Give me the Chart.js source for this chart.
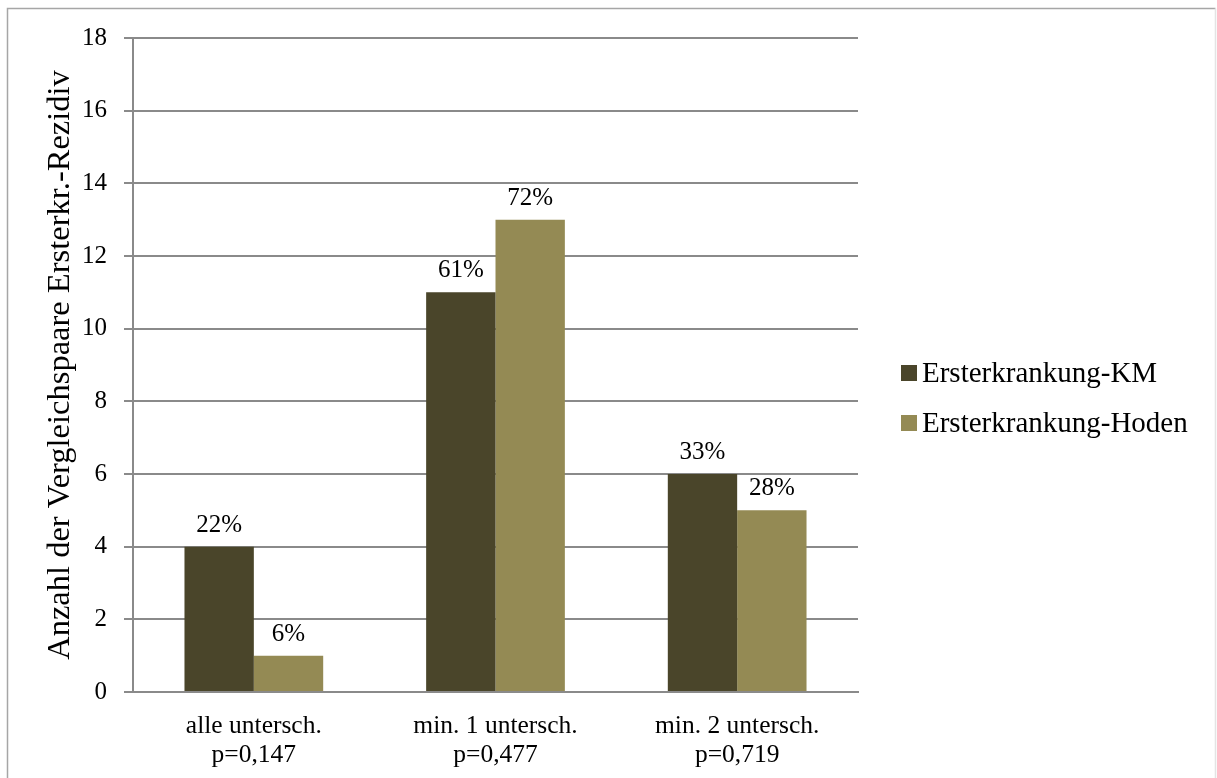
<!DOCTYPE html>
<html>
<head>
<meta charset="utf-8">
<script src="https://cdn.jsdelivr.net/npm/chart.js@4"></script>
<style>
  html, body { margin: 0; padding: 0; background: #ffffff; }
  canvas { display: block; }
</style>
</head>
<body>
<canvas id="chart" width="1217" height="778"></canvas>
<script>
// Categories (two-line axis labels) and series
const categories = [
  ['alle untersch.', 'p=0,147'],
  ['min. 1 untersch.', 'p=0,477'],
  ['min. 2 untersch.', 'p=0,719']
];
const seriesNames = ['Ersterkrankung-KM', 'Ersterkrankung-Hoden'];
const kmValues = [4, 11, 6];
const hodenValues = [1, 13, 5];
const kmPercent = ['22%', '61%', '33%'];
const hodenPercent = ['6%', '72%', '28%'];
const yTickValues = [0, 2, 4, 6, 8, 10, 12, 14, 16, 18];
const yAxisTitle = 'Anzahl der Vergleichspaare Ersterkr.-Rezidiv';

const colors = ['#4A452A', '#948A54'];
const FONT = "'Liberation Serif', 'Times New Roman', serif";
const gridColor = '#8a8a8a';

// Outer frame around the whole chart
const framePlugin = {
  id: 'frame',
  beforeDraw(chart) {
    const ctx = chart.ctx;
    ctx.save();
    ctx.fillStyle = '#ffffff';
    ctx.fillRect(0, 0, chart.width, chart.height);
    ctx.lineWidth = 1.5;
    ctx.strokeStyle = '#a6a6a6';
    ctx.beginPath();
    ctx.moveTo(7.5, chart.height + 2);
    ctx.lineTo(7.5, 8.5);
    ctx.lineTo(chart.width - 1.5, 8.5);
    ctx.stroke();
    ctx.strokeStyle = '#e4e4e4';
    ctx.beginPath();
    ctx.moveTo(chart.width - 1.5, 8.5);
    ctx.lineTo(chart.width - 1.5, chart.height + 2);
    ctx.stroke();
    ctx.restore();
  }
};

// Percentage labels above each bar
const percentLabels = [kmPercent, hodenPercent];
const barLabelPlugin = {
  id: 'barLabels',
  afterDatasetsDraw(chart) {
    const ctx = chart.ctx;
    ctx.save();
    ctx.font = '25px ' + FONT;
    ctx.fillStyle = '#000000';
    ctx.textAlign = 'center';
    ctx.textBaseline = 'alphabetic';
    chart.data.datasets.forEach((ds, di) => {
      const meta = chart.getDatasetMeta(di);
      meta.data.forEach((bar, i) => {
        ctx.fillText(percentLabels[di][i], bar.x, bar.y - 15);
      });
    });
    ctx.restore();
  }
};

// Legend on the right side
const sideLegendPlugin = {
  id: 'sideLegend',
  afterDraw(chart) {
    const ctx = chart.ctx;
    ctx.save();
    ctx.font = '29px ' + FONT;
    ctx.textBaseline = 'middle';
    ctx.textAlign = 'left';
    chart.data.datasets.forEach((ds, i) => {
      const cy = 373 + i * 50;
      ctx.fillStyle = ds.backgroundColor;
      ctx.fillRect(901, cy - 8, 16, 16);
      ctx.fillStyle = '#000000';
      ctx.fillText(ds.label, 922, cy + 1);
    });
    ctx.restore();
  }
};

new Chart(document.getElementById('chart'), {
  type: 'bar',
  data: {
    labels: categories,
    datasets: [
      { label: seriesNames[0], data: kmValues, backgroundColor: colors[0] },
      { label: seriesNames[1], data: hodenValues, backgroundColor: colors[1] }
    ]
  },
  options: {
    responsive: false,
    animation: false,
    devicePixelRatio: 1,
    layout: { padding: { left: 0, top: 38, right: 359, bottom: 0 } },
    datasets: {
      bar: { categoryPercentage: 0.574, barPercentage: 1.0, borderWidth: 0 }
    },
    plugins: {
      legend: { display: false },
      tooltip: { enabled: false }
    },
    scales: {
      x: {
        grid: { display: false, drawTicks: false },
        border: { display: true, color: gridColor, width: 2 },
        ticks: {
          color: '#000000',
          font: { family: FONT, size: 25.5, lineHeight: 1.12 },
          padding: 20,
          maxRotation: 0,
          autoSkip: false
        },
        afterFit(scale) { scale.height = 86; }
      },
      y: {
        min: 0,
        max: 18,
        afterBuildTicks(scale) {
          scale.ticks = yTickValues.map(v => ({ value: v }));
        },
        grid: { color: gridColor, lineWidth: 2, tickLength: 9, drawTicks: true },
        border: { display: true, color: gridColor, width: 2 },
        ticks: {
          color: '#000000',
          font: { family: FONT, size: 25 },
          padding: 17
        },
        title: {
          display: true,
          text: yAxisTitle,
          color: '#000000',
          font: { family: FONT, size: 32.5 },
          padding: { top: 41, bottom: 0 }
        },
        afterFit(scale) { scale.width = 133; }
      }
    }
  },
  plugins: [framePlugin, barLabelPlugin, sideLegendPlugin]
});
</script>
</body>
</html>
